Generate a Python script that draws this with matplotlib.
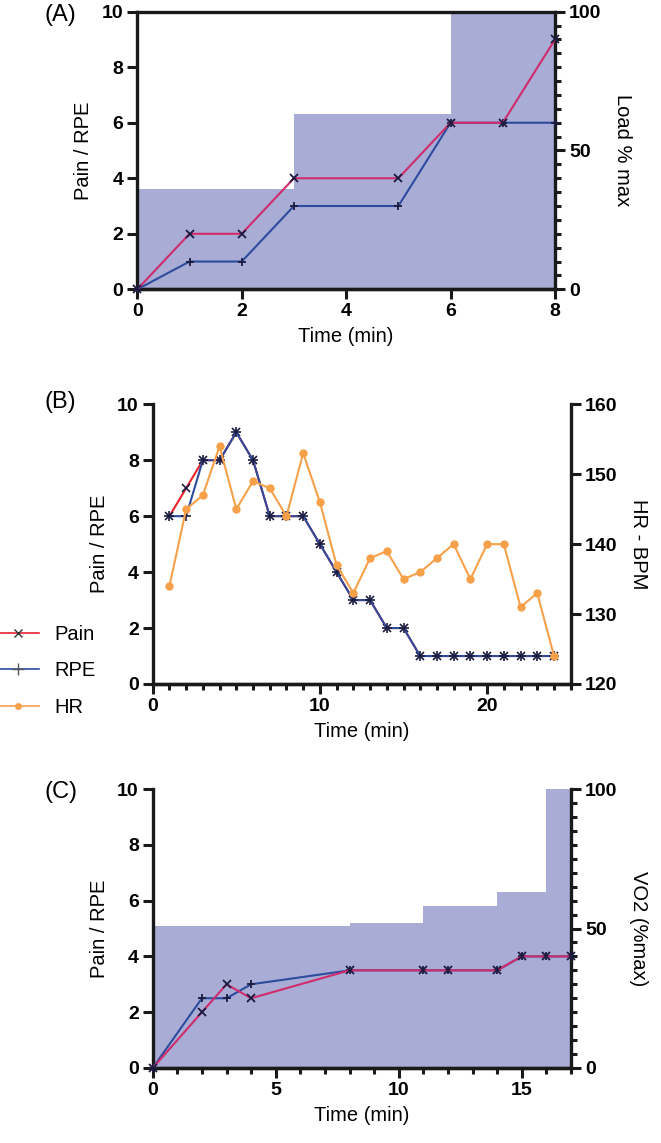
import matplotlib
matplotlib.use("Agg")
import matplotlib.pyplot as plt
from matplotlib.ticker import MultipleLocator
from matplotlib.lines import Line2D

plt.rcParams['font.family'] = ['Liberation Sans', 'DejaVu Sans']

# ---------------- Data ----------------
# Panel A
a_time = [0, 1, 2, 3, 5, 6, 7, 8]
a_pain = [0, 2, 2, 4, 4, 6, 6, 9]
a_rpe = [0, 1, 1, 3, 3, 6, 6, 6]
a_load_edges = [0, 3, 6, 8]
a_load = [36, 63, 100]

# Panel B
b_time = list(range(1, 25))
b_pain = [6, 7, 8, 8, 9, 8, 6, 6, 6, 5, 4, 3, 3, 2, 2, 1, 1, 1, 1, 1, 1, 1, 1, 1]
b_rpe = [6, 6, 8, 8, 9, 8, 6, 6, 6, 5, 4, 3, 3, 2, 2, 1, 1, 1, 1, 1, 1, 1, 1, 1]
b_hr = [134, 145, 147, 154, 145, 149, 148, 144, 153, 146, 137, 133, 138, 139,
        135, 136, 138, 140, 135, 140, 140, 131, 133, 124]

# Panel C
c_time = [0, 2, 3, 4, 8, 11, 12, 14, 15, 16, 17]
c_pain = [0, 2, 3, 2.5, 3.5, 3.5, 3.5, 3.5, 4, 4, 4]
c_rpe = [0, 2.5, 2.5, 3, 3.5, 3.5, 3.5, 3.5, 4, 4, 4]
c_vo2_edges = [0, 8, 11, 14, 16, 17]
c_vo2 = [51, 52, 58, 63, 100]

# ---------------- Style ----------------
PAIN_AC = '#d02b6b'
PAIN_B = '#e8252c'
RPE_C = '#2d4c9e'
HR_C = '#f7a04a'
FILL_C = '#a9acd5'
MK_C = '#1b1b40'
W, H = 661, 1143
TICK_FS = 14
LABEL_FS = 14.5

fig = plt.figure(figsize=(W / 100, H / 100), dpi=100)


def ax_rect(left, top, right, bottom):
    return [left / W, 1 - bottom / H, (right - left) / W, (bottom - top) / H]


def style_axes(ax, ax2, top_spine=False):
    for a in (ax, ax2):
        for s in a.spines.values():
            s.set_linewidth(2.4)
            s.set_color('#1a1a1a')
        a.spines['top'].set_visible(False)
        a.tick_params(which='major', length=7, width=2.2, labelsize=TICK_FS,
                      color='#1a1a1a', pad=3)
        a.tick_params(which='minor', length=4.5, width=2.2, color='#1a1a1a')
        for lbl in a.get_xticklabels() + a.get_yticklabels():
            lbl.set_fontweight('bold')
    ax.spines['right'].set_visible(False)
    ax2.spines['left'].set_visible(False)
    if top_spine:
        ax2.spines['top'].set_visible(True)
        ax2.spines['top'].set_zorder(10)


def lines_pc(ax, t, pain, rpe, pain_color):
    ax.plot(t, rpe, color=RPE_C, lw=1.5, marker='+', ms=6, mew=1.3,
            mec=MK_C, clip_on=False, zorder=3)
    ax.plot(t, pain, color=pain_color, lw=1.5, marker='x', ms=5.5, mew=1.3,
            mec=MK_C, clip_on=False, zorder=4)


# ---------------- Panel A ----------------
axA = fig.add_axes(ax_rect(137.3, 11.7, 555, 289.3))
axA2 = axA.twinx()
axA2.stairs(a_load, a_load_edges, fill=True, color=FILL_C, lw=0)
axA.set_zorder(axA2.get_zorder() + 1)
axA.patch.set_visible(False)
lines_pc(axA, a_time, a_pain, a_rpe, PAIN_AC)
axA.set_xlim(0, 8)
axA.set_ylim(0, 10)
axA2.set_ylim(0, 100)
axA.xaxis.set_major_locator(MultipleLocator(2))
axA.yaxis.set_major_locator(MultipleLocator(2))
axA2.yaxis.set_major_locator(MultipleLocator(50))
axA2.yaxis.set_minor_locator(MultipleLocator(5))
axA.set_xlabel('Time (min)', fontsize=LABEL_FS, labelpad=5)
axA.set_ylabel('Pain / RPE', fontsize=LABEL_FS, labelpad=6)
axA2.set_ylabel('Load % max', fontsize=LABEL_FS, rotation=270, labelpad=22)
style_axes(axA, axA2, top_spine=True)
fig.text(44 / W, 1 - 15 / H, '(A)', fontsize=17, va='center', ha='left')

# ---------------- Panel B ----------------
axB = fig.add_axes(ax_rect(152.7, 404.3, 570.7, 684))
axB2 = axB.twinx()
axB.plot(b_time, b_pain, color=PAIN_B, lw=1.5, marker='x', ms=5.5, mew=1.2,
         mec=MK_C, zorder=3)
axB.plot(b_time, b_rpe, color=RPE_C, lw=1.5, marker='+', ms=7, mew=1.2,
         mec=MK_C, zorder=4)
axB2.plot(b_time, b_hr, color=HR_C, lw=1.5, marker='o', ms=6, mew=0,
          clip_on=False)
axB.set_xlim(0, 25)
axB.set_ylim(0, 10)
axB2.set_ylim(120, 160)
axB.xaxis.set_major_locator(MultipleLocator(10))
axB.xaxis.set_minor_locator(MultipleLocator(1))
axB.yaxis.set_major_locator(MultipleLocator(2))
axB2.yaxis.set_major_locator(MultipleLocator(10))
axB.set_xlabel('Time (min)', fontsize=LABEL_FS, labelpad=5)
axB.set_ylabel('Pain / RPE', fontsize=LABEL_FS, labelpad=6)
axB2.set_ylabel('HR - BPM', fontsize=LABEL_FS, rotation=270, labelpad=22)
style_axes(axB, axB2)
fig.text(44 / W, 1 - 402 / H, '(B)', fontsize=17, va='center', ha='left')

handles = [
    Line2D([], [], color=PAIN_B, lw=1.2, marker='x', ms=6, mew=1.0, mec='#333333'),
    Line2D([], [], color=RPE_C, lw=1.2, marker='+', ms=8, mew=1.0, mec='#555555'),
    Line2D([], [], color=HR_C, lw=1.2, marker='o', ms=5, mew=0),
]
fig.legend(handles, ['Pain', 'RPE', 'HR'], loc='center left',
           bbox_to_anchor=(-0.03, 1 - 671 / H), frameon=False, fontsize=LABEL_FS,
           handlelength=2.0, handletextpad=0.8, labelspacing=0.85)

# ---------------- Panel C ----------------
axC = fig.add_axes(ax_rect(152.7, 789, 571, 1068))
axC2 = axC.twinx()
axC2.stairs(c_vo2, c_vo2_edges, fill=True, color=FILL_C, lw=0)
axC.set_zorder(axC2.get_zorder() + 1)
axC.patch.set_visible(False)
lines_pc(axC, c_time, c_pain, c_rpe, PAIN_AC)
axC.set_xlim(0, 17)
axC.set_ylim(0, 10)
axC2.set_ylim(0, 100)
axC.xaxis.set_major_locator(MultipleLocator(5))
axC.xaxis.set_minor_locator(MultipleLocator(1))
axC.yaxis.set_major_locator(MultipleLocator(2))
axC2.yaxis.set_major_locator(MultipleLocator(50))
axC2.yaxis.set_minor_locator(MultipleLocator(5))
axC.set_xlabel('Time (min)', fontsize=LABEL_FS, labelpad=5)
axC.set_ylabel('Pain / RPE', fontsize=LABEL_FS, labelpad=6)
axC2.set_ylabel('VO2 (%max)', fontsize=LABEL_FS, rotation=270, labelpad=22)
style_axes(axC, axC2)
fig.text(44 / W, 1 - 792 / H, '(C)', fontsize=17, va='center', ha='left')

fig.savefig('out.png', dpi=100)
